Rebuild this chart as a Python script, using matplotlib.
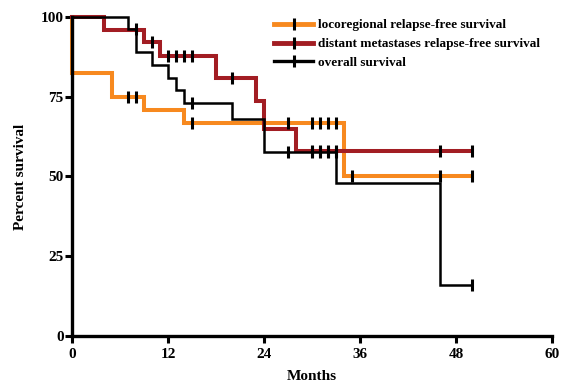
import numpy as np
import matplotlib.pyplot as plt
from matplotlib.lines import Line2D

plt.rcParams['font.family'] = ['Liberation Serif', 'DejaVu Serif']
plt.rcParams['font.weight'] = 'bold'

# Kaplan-Meier steps: (time in months, percent survival) with steps-post
loco_t = [0, 0, 5, 9, 14, 34, 50]
loco_s = [100, 82.4, 75.0, 70.8, 66.7, 50.0, 50.0]
loco_cens = [7, 8, 15, 27, 30, 31, 32, 33, 35, 46, 50]

dist_t = [0, 4, 9, 11, 18, 23, 24, 28, 50]
dist_s = [100, 96.0, 92.0, 87.6, 81.0, 73.6, 65.0, 58.0, 58.0]
dist_cens = [10, 12, 13, 14, 15, 20, 30, 31, 32, 33, 46, 50]

os_t = [0, 7, 8, 10, 12, 13, 14, 20, 24, 33, 46, 50]
os_s = [100, 96.2, 89.0, 85.0, 81.0, 77.0, 73.0, 68.0, 57.7, 48.0, 16.0, 16.0]
os_cens = [8, 15, 27, 30, 31, 32, 33, 50]

labels = ['locoregional relapse-free survival',
          'distant metastases relapse-free survival',
          'overall survival']
colors = ['#F7891F', '#A21D23', '#000000']


def level_before(t, s, c):
    t = np.array(t)
    s = np.array(s)
    idx = np.searchsorted(t, c, side='left') - 1
    return s[np.clip(idx, 0, len(s) - 1)]


fig = plt.figure(figsize=(5.62, 3.84), dpi=100)
ax = fig.add_axes([0.128, 0.125, 0.854, 0.831])

series = [(loco_t, loco_s, loco_cens, 2.9),
          (dist_t, dist_s, dist_cens, 2.9),
          (os_t, os_s, os_cens, 1.8)]

handles = []
for (t, s, cens, lw), col in zip(series, colors):
    ax.plot(t, s, drawstyle='steps-post', color=col, lw=lw, clip_on=False,
            solid_joinstyle='miter')
    ax.plot(cens, level_before(t, s, cens), ls='none', marker='|', ms=8,
            mew=2.2, color='black', clip_on=False, zorder=4)
    # legend handle: coloured line with a black censor tick
    handles.append((Line2D([], [], color=col, lw=lw + 0.6),
                    Line2D([], [], ls='none', marker='|', ms=8, mew=2.2, color='black')))

ax.set_xlim(0, 60)
ax.set_ylim(0, 100)
ax.set_xticks([0, 12, 24, 36, 48, 60])
ax.set_yticks([0, 25, 50, 75, 100])
for side in ['top', 'right']:
    ax.spines[side].set_visible(False)
for side in ['left', 'bottom']:
    ax.spines[side].set_linewidth(2.4)
ax.tick_params(width=2.2, length=5, labelsize=11)
ax.tick_params(axis='x', pad=4)
ax.tick_params(axis='y', pad=1)
for lbl in ax.get_xticklabels() + ax.get_yticklabels():
    lbl.set_fontweight('bold')

ax.set_xlabel('Months', fontsize=11, fontweight='bold', labelpad=6)
ax.set_ylabel('Percent survival', fontsize=11, fontweight='bold', labelpad=10)

ax.legend(handles, labels, loc='upper right', bbox_to_anchor=(1.0, 1.03),
          frameon=False, prop={'size': 9.5, 'weight': 'bold'},
          handlelength=2.9, handletextpad=0.4, labelspacing=0.5)

fig.savefig('out.png', dpi=100)
